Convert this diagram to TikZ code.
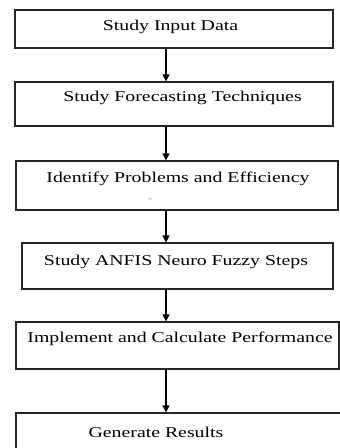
\documentclass[tikz,border=0pt]{standalone}
\usepackage{fontspec}
\setmainfont[FakeStretch=1.32]{Liberation Serif}
\usetikzlibrary{arrows.meta}

\tikzset{
  stepbox/.style={draw=black!85, line width=1.2pt, inner sep=0pt},
  steptext/.style={font=\fontsize{15}{18}\selectfont, inner sep=0pt},
  flow/.style={-{Triangle[length=7pt,width=7pt]}, line width=1.2pt}
}

\begin{document}
\begin{tikzpicture}[x=1pt,y=-1pt]
\useasboundingbox (0,0) rectangle (340,448);
\clip (0,0) rectangle (340,448);

% Boxes, name / left / top / right / bottom
\foreach \n/\l/\t/\r/\b in {1/15/10/333/48, 2/15/82/333/126, 3/16/161/338/210, 4/22/243/333/289, 5/16/322/339/369, 6/16/413/350/470}
{
    \node[stepbox, minimum width={\r-\l}, minimum height={\b-\t}] (b\n) at ({(\l+\r)/2},{(\t+\b)/2}) {};
}

% Labels
\node[steptext] (t1) at (170.5,26.5) {Study Input Data};
\node[steptext] (t2) at (182.5,97.5) {Study Forecasting Techniques};
\node[steptext] (t3) at (178,178.5) {Identify Problems and Efficiency};
\node[steptext] (t4) at (176,261.5) {Study ANFIS Neuro Fuzzy Steps};
\node[steptext] (t5) at (180,338.5) {Implement and Calculate Performance};
\node[steptext] (t6) at (156,432.5) {Generate Results};
\node[font=\small, text=black!50] (d3) at (150,200) {-};

% Arrows down the middle
\coordinate (ax) at (166,0);
\foreach \a/\b in {1/2,2/3,3/4,4/5,5/6}
{
    \draw[flow] (b\a.south -| ax) -- (b\b.north -| ax);
}

\end{tikzpicture}
\end{document}
